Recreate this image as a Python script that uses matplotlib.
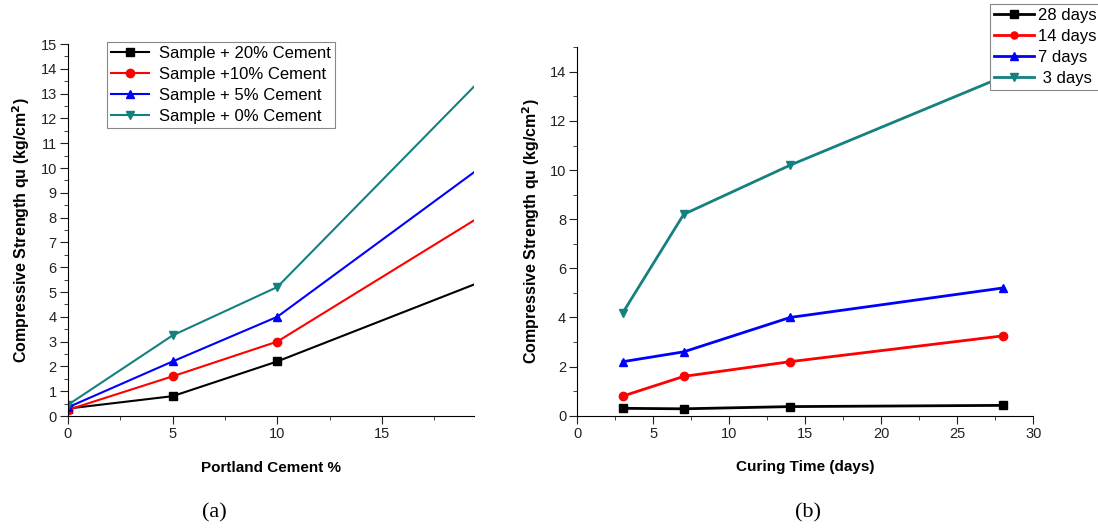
import matplotlib.pyplot as plt
from matplotlib.ticker import MultipleLocator

# --- datos (a) ---
cemento = [0, 5, 10, 20]
s20 = [0.3, 0.8, 2.2, 5.5]
s10 = [0.25, 1.6, 3.0, 8.2]
s5 = [0.35, 2.2, 4.0, 10.2]
s0 = [0.45, 3.25, 5.2, 13.8]
etiquetas_a = ["Sample + 20% Cement", "Sample +10% Cement", "Sample + 5% Cement", "Sample + 0% Cement"]

# --- datos (b) ---
dias = [3, 7, 14, 28]
d28 = [0.3, 0.28, 0.37, 0.42]
d14 = [0.8, 1.6, 2.2, 3.25]
d7 = [2.2, 2.6, 4.0, 5.2]
d3 = [4.2, 8.2, 10.2, 13.8]
etiquetas_b = ["28 days", "14 days", "7 days", " 3 days"]

colores = ["black", "red", "blue", "#158080"]
marcadores = ["s", "o", "^", "v"]

plt.rcParams["font.family"] = ["Liberation Sans", "DejaVu Sans"]

fig = plt.figure(figsize=(10.98, 5.29), dpi=100)
ax1 = fig.add_axes([0.0619, 0.2136, 0.3698, 0.7032])
ax2 = fig.add_axes([0.5258, 0.2142, 0.4153, 0.6964])

ylab = r"Compressive Strength qu (kg/cm$\mathbf{^2}$)"

for ax in (ax1, ax2):
    ax.spines["top"].set_visible(False)
    ax.spines["right"].set_visible(False)
    ax.tick_params(which="both", direction="out", labelsize=10.5, colors="#222222", pad=2)
    ax.tick_params(which="major", length=6)
    ax.tick_params(which="minor", length=3)

for serie, c, m, lab in zip([s20, s10, s5, s0], colores, marcadores, etiquetas_a):
    ax1.plot(cemento, serie, color=c, marker=m, markersize=6, linewidth=1.5, label=lab)
ax1.set_xlim(0, 19.4)
ax1.set_ylim(0, 15)
ax1.xaxis.set_major_locator(MultipleLocator(5))
ax1.xaxis.set_minor_locator(MultipleLocator(2.5))
ax1.yaxis.set_major_locator(MultipleLocator(1))
ax1.yaxis.set_minor_locator(MultipleLocator(0.5))
ax1.set_xlabel("Portland Cement %", fontsize=11, fontweight="bold", labelpad=14)
ax1.set_ylabel(ylab, fontsize=11.5, fontweight="bold", labelpad=6)
leg1 = ax1.legend(loc="upper left", bbox_to_anchor=(0.095, 1.005), fontsize=12, frameon=True,
                  fancybox=False, edgecolor="#888888", borderpad=0.25, labelspacing=0.36,
                  handlelength=2.3, handletextpad=0.6, borderaxespad=0, framealpha=1)

for serie, c, m, lab in zip([d28, d14, d7, d3], colores, marcadores, etiquetas_b):
    ax2.plot(dias, serie, color=c, marker=m, markersize=6, linewidth=2, label=lab)
ax2.set_xlim(0, 30)
ax2.set_ylim(0, 15)
ax2.xaxis.set_major_locator(MultipleLocator(5))
ax2.xaxis.set_minor_locator(MultipleLocator(2.5))
ax2.yaxis.set_major_locator(MultipleLocator(2))
ax2.yaxis.set_minor_locator(MultipleLocator(1))
ax2.set_xlabel("Curing Time (days)", fontsize=11, fontweight="bold", labelpad=14)
ax2.set_ylabel(ylab, fontsize=11.5, fontweight="bold", labelpad=6)
h2, l2 = ax2.get_legend_handles_labels()
leg2 = fig.legend(h2, l2, loc="upper left",
                  bbox_to_anchor=(990 / 1098, 1 - 4 / 529), fontsize=12, frameon=True,
                  fancybox=False, edgecolor="#888888", borderpad=0.25, labelspacing=0.36,
                  handlelength=2.4, handletextpad=0.2, borderaxespad=0, markerscale=0.85,
                  framealpha=1)
for leg in (leg1, leg2):
    leg.get_frame().set_linewidth(0.8)

fig.text(214 / 1098, 1 - 513 / 529, "(a)", fontsize=16, family="Liberation Serif", ha="center", va="center")
fig.text(808 / 1098, 1 - 513 / 529, "(b)", fontsize=16, family="Liberation Serif", ha="center", va="center")

fig.savefig("out.png", dpi=100)
